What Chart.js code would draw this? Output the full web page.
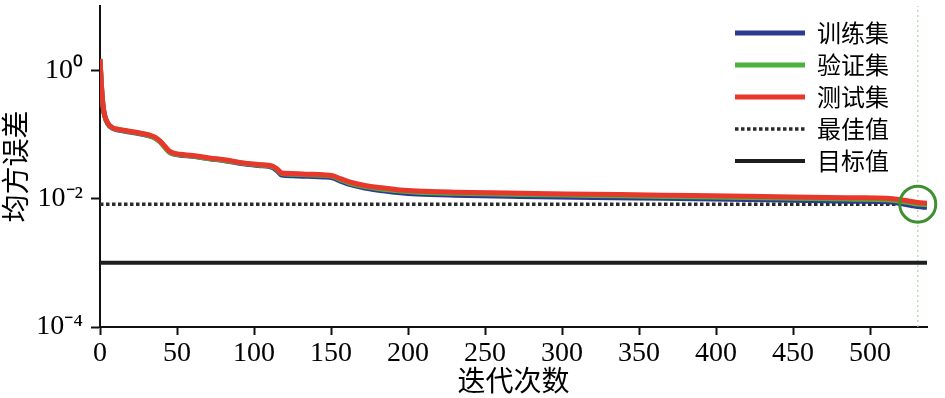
<!DOCTYPE html>
<html>
<head>
<meta charset="utf-8">
<script src="https://cdn.jsdelivr.net/npm/chart.js@4/dist/chart.umd.min.js"></script>
<style>
  html, body { margin: 0; padding: 0; background: #fff; }
  canvas { display: block; }
</style>
</head>
<body>
<canvas id="chart" width="945" height="398"></canvas>
<script>
// training record (MSE, log scale)
const epochs = [0, 1, 2, 3, 5, 8, 12, 18, 25, 32, 36, 39, 42, 45, 48, 52, 60, 71, 82, 93,
  103, 112, 115, 118, 125, 135, 145, 151, 156, 162, 172, 184, 195, 206, 230, 273, 320, 366, 409, 450,
  490, 511, 520, 527, 531, 537];
const trainMse = [1.45, 0.53, 0.27, 0.195, 0.147, 0.125, 0.117, 0.11, 0.103, 0.095, 0.087, 0.077, 0.064, 0.053, 0.0495, 0.0475, 0.0455, 0.0418, 0.0386, 0.035,
  0.0328, 0.0305, 0.027, 0.0232, 0.0227, 0.0222, 0.0217, 0.021, 0.0187, 0.0166, 0.0146, 0.0132, 0.0123, 0.0118, 0.0113, 0.0108, 0.0104, 0.0101, 0.0098, 0.0094,
  0.0091, 0.0089, 0.0084, 0.0078, 0.0075, 0.0073];
const valMse = [1.5, 0.55, 0.28, 0.2, 0.15, 0.127, 0.119, 0.112, 0.105, 0.096, 0.087, 0.076, 0.063, 0.053, 0.05, 0.048, 0.046, 0.042, 0.039, 0.0355,
  0.0335, 0.0315, 0.0285, 0.0245, 0.024, 0.0235, 0.023, 0.0222, 0.0198, 0.0175, 0.0154, 0.014, 0.0131, 0.0126, 0.0121, 0.0116, 0.0112, 0.0108, 0.0105, 0.0101,
  0.0098, 0.0096, 0.0091, 0.0085, 0.0082, 0.0080];
const testMse = [1.5, 0.55, 0.28, 0.2, 0.15, 0.128, 0.12, 0.113, 0.106, 0.098, 0.09, 0.079, 0.066, 0.055, 0.051, 0.049, 0.047, 0.043, 0.04, 0.036,
  0.034, 0.032, 0.029, 0.025, 0.0245, 0.024, 0.0235, 0.0228, 0.0205, 0.0182, 0.016, 0.0146, 0.0136, 0.0131, 0.0126, 0.0121, 0.0117, 0.0113, 0.011, 0.0106,
  0.0103, 0.0101, 0.0096, 0.009, 0.0087, 0.0085];

const bestEpoch = 531;
const bestMse = 0.0082;
const goalMse = 0.001;
const lastEpoch = 537;

const seriesNames = ['训练集', '验证集', '测试集', '最佳值', '目标值'];
const xTicks = [0, 50, 100, 150, 200, 250, 300, 350, 400, 450, 500];
const yTicks = [1e-4, 1e-2, 1];
const yTickLabels = ['10⁻⁴', '10⁻²', '10⁰'];
const yMin = 1e-4;
const yMax = 10;

function toPoints(xs, ys) {
  return xs.map((x, i) => ({ x: x, y: ys[i] }));
}

const serif = 'Liberation Serif';
const cjk = 'Noto Sans CJK SC';

// move the legend into the top right corner of the plot
const legendPlacer = {
  id: 'legendPlacer',
  afterLayout(chart) {
    const lg = chart.legend;
    const w = lg.width, h = lg.height;
    lg.left = 727;
    lg.top = 13;
    lg.right = lg.left + w;
    lg.bottom = lg.top + h;
  }
};

const ctx = document.getElementById('chart');
new Chart(ctx, {
  type: 'line',
  data: {
    datasets: [
      {
        label: seriesNames[0],
        data: toPoints(epochs, trainMse),
        borderColor: '#2d3a92',
        borderWidth: 5,
        pointRadius: 0,
        cubicInterpolationMode: 'monotone',
        order: 2
      },
      {
        label: seriesNames[1],
        data: toPoints(epochs, valMse),
        borderColor: '#4db23d',
        borderWidth: 5,
        pointRadius: 0,
        cubicInterpolationMode: 'monotone',
        order: 1
      },
      {
        label: seriesNames[2],
        data: toPoints(epochs, testMse),
        borderColor: '#e8382c',
        borderWidth: 5,
        pointRadius: 0,
        cubicInterpolationMode: 'monotone',
        order: 0
      },
      {
        label: seriesNames[3],
        data: [{ x: 0, y: bestMse }, { x: lastEpoch, y: bestMse }],
        borderColor: '#2a2a2a',
        borderWidth: 3.5,
        borderDash: [3.5, 2.5],
        pointRadius: 0,
        order: 3
      },
      {
        label: seriesNames[4],
        data: [{ x: 0, y: goalMse }, { x: lastEpoch, y: goalMse }],
        borderColor: '#1e1e1e',
        borderWidth: 4,
        pointRadius: 0,
        order: 4
      },
      {
        // best epoch marker line
        label: '',
        data: [{ x: bestEpoch, y: yMin }, { x: bestEpoch, y: yMax }],
        borderColor: 'rgba(170,210,170,0.8)',
        borderWidth: 1.5,
        borderDash: [2, 3],
        pointRadius: 0,
        order: 5
      },
      {
        // circle round the best validation point
        label: '',
        data: [{ x: bestEpoch, y: bestMse }],
        showLine: false,
        pointRadius: 18,
        pointBorderWidth: 3,
        pointBorderColor: '#3f8f30',
        pointBackgroundColor: 'rgba(0,0,0,0)',
        clip: false,
        order: -1
      }
    ]
  },
  options: {
    responsive: false,
    devicePixelRatio: 1,
    animation: false,
    layout: { autoPadding: false, padding: { top: 6, right: 18, left: 0, bottom: 0 } },
    plugins: {
      tooltip: { enabled: false },
      legend: {
        position: 'chartArea',
        align: 'start',
        labels: {
          usePointStyle: true,
          pointStyleWidth: 70,
          padding: 8,
          color: '#000',
          font: { family: cjk, size: 24 },
          generateLabels: (chart) => chart.data.datasets.map((ds, i) => ({
            text: ds.label,
            strokeStyle: ds.borderColor,
            fillStyle: ds.borderColor,
            lineWidth: ds.borderWidth,
            lineDash: ds.borderDash || [],
            pointStyle: 'line',
            fontColor: '#000',
            hidden: false,
            datasetIndex: i
          })),
          filter: (item) => !!item.text
        }
      }
    },
    scales: {
      x: {
        type: 'linear',
        min: 0,
        max: lastEpoch,
        afterBuildTicks: (s) => { s.ticks = xTicks.map(v => ({ value: v })); },
        afterFit: (s) => { s.height = 71; s.paddingLeft = 0; s.paddingRight = 0; },
        grid: { drawOnChartArea: false, drawTicks: true, tickLength: 8, tickWidth: 2, tickColor: '#111' },
        border: { display: true, color: '#111', width: 2 },
        ticks: {
          color: '#000',
          font: { family: serif, size: 28 },
          padding: 2,
          maxRotation: 0,
          autoSkip: false
        },
        title: {
          display: true,
          text: '迭代次数',
          color: '#000',
          font: { family: cjk, size: 28, lineHeight: 1.1 },
          padding: { top: 0, bottom: 2 }
        }
      },
      y: {
        type: 'logarithmic',
        min: yMin,
        max: yMax,
        afterBuildTicks: (s) => { s.ticks = yTicks.map(v => ({ value: v })); },
        afterFit: (s) => { s.width = 100; s.paddingTop = 0; s.paddingBottom = 0; },
        grid: { drawOnChartArea: false, drawTicks: true, tickLength: 9, tickWidth: 2, tickColor: '#111' },
        border: { display: true, color: '#111', width: 2 },
        ticks: {
          color: '#000',
          font: { family: serif, size: 28 },
          padding: 8,
          callback: (value) => {
            const i = yTicks.findIndex(t => Math.abs(Math.log10(t) - Math.log10(value)) < 1e-6);
            return i >= 0 ? yTickLabels[i] : '';
          }
        },
        title: {
          display: true,
          text: '均方误差',
          color: '#000',
          font: { family: cjk, size: 28, lineHeight: 1.1 },
          padding: { top: 0, bottom: 0 }
        }
      }
    }
  },
  plugins: [legendPlacer]
});
</script>
</body>
</html>
